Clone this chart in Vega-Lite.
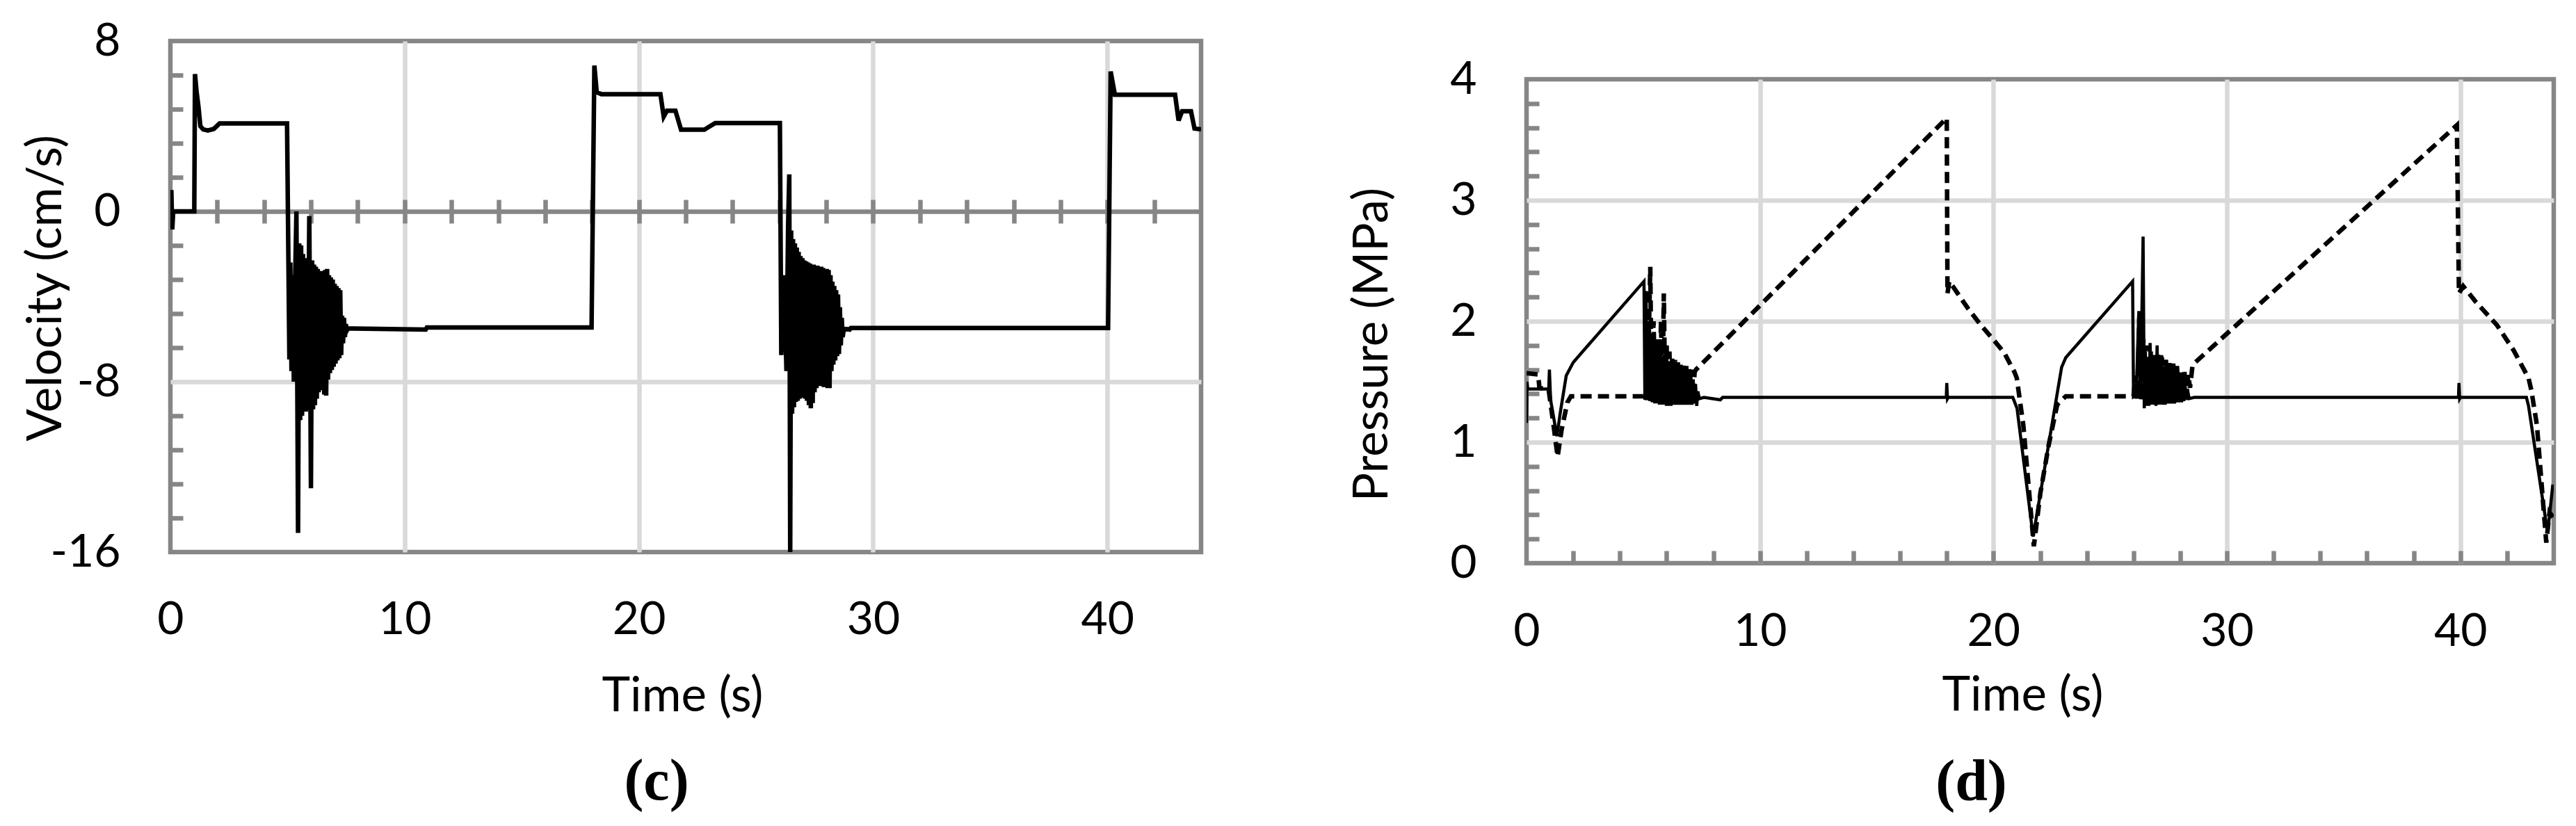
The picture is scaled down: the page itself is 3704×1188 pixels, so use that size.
{
"$schema": "https://vega.github.io/schema/vega-lite/v6.json",
"background": "white",
"padding": {"left": 28, "top": 22, "right": 0, "bottom": 0},
"spacing": 204,
"config": {
 "font": "Lato",
 "view": {"stroke": "#868686", "strokeWidth": 6.5},
 "axis": {"labelFont": "Lato", "titleFont": "Lato", "labelFontSize": 66, "titleFontSize": 69, "labelColor": "black", "titleColor": "black", "titleFontWeight": "normal", "domain": false, "gridColor": "#d9d9d9", "gridWidth": 6.5, "tickColor": "#868686", "tickWidth": 6.5, "labelFlush": false, "labelOverlap": false, "labelBound": false},
 "title": {"font": "Liberation Serif", "fontSize": 84, "fontWeight": "bold", "orient": "bottom", "anchor": "middle", "frame": "group", "color": "black"}
},
"datasets": {
"vel": [
{"t":0,"v":0},{"t":0.04,"v":1.0},{"t":0.08,"v":-0.85},{"t":0.12,"v":0},{"t":1.02,"v":0},{"t":1.05,"v":6.45},{"t":1.12,"v":5.6},{"t":1.2,"v":4.9},{"t":1.28,"v":4.0},{"t":1.4,"v":3.85},{"t":1.6,"v":3.8},{"t":1.85,"v":3.87},{"t":2.1,"v":4.13},{"t":4.98,"v":4.13},
{"t":5.08,"v":-6.95},{"t":5.12,"v":-2.4},{"t":5.17,"v":-7.5},{"t":5.22,"v":-3.0},{"t":5.27,"v":-8.0},{"t":5.32,"v":-3.5},{"t":5.38,"v":0.0},{"t":5.45,"v":-15.1},{"t":5.5,"v":-1.5},{"t":5.54,"v":-9.8},{"t":5.58,"v":-1.6},{"t":5.62,"v":-9.6},{"t":5.66,"v":-2.0},{"t":5.7,"v":-9.4},{"t":5.74,"v":-2.2},{"t":5.78,"v":-9.4},{"t":5.82,"v":-2.4},{"t":5.86,"v":-9.3},{"t":5.93,"v":-0.22},{"t":6.0,"v":-13.0},{"t":6.05,"v":-2.3},{"t":6.09,"v":-9.3},{"t":6.13,"v":-2.5},{"t":6.17,"v":-9.1},{"t":6.21,"v":-2.6},{"t":6.25,"v":-8.8},{"t":6.29,"v":-2.7},{"t":6.33,"v":-8.5},{"t":6.37,"v":-2.8},{"t":6.41,"v":-8.4},{"t":6.45,"v":-2.85},{"t":6.49,"v":-8.4},{"t":6.53,"v":-2.8},{"t":6.57,"v":-8.6},{"t":6.61,"v":-2.75},{"t":6.65,"v":-8.65},{"t":6.69,"v":-2.7},{"t":6.73,"v":-7.9},{"t":6.77,"v":-3.0},{"t":6.81,"v":-7.6},{"t":6.85,"v":-3.1},{"t":6.89,"v":-7.45},{"t":6.93,"v":-3.2},{"t":6.97,"v":-7.3},{"t":7.01,"v":-3.4},{"t":7.05,"v":-7.15},{"t":7.09,"v":-3.5},{"t":7.13,"v":-7.0},{"t":7.17,"v":-3.6},{"t":7.21,"v":-6.9},{"t":7.25,"v":-3.7},{"t":7.29,"v":-6.75},{"t":7.33,"v":-4.9},{"t":7.37,"v":-6.2},{"t":7.41,"v":-5.0},{"t":7.45,"v":-5.9},{"t":7.49,"v":-5.3},{"t":7.53,"v":-5.6},{"t":7.58,"v":-5.5},
{"t":10.9,"v":-5.55},{"t":10.95,"v":-5.45},{"t":17.98,"v":-5.45},{"t":18.1,"v":6.85},{"t":18.2,"v":5.6},{"t":18.4,"v":5.5},{"t":20.92,"v":5.5},{"t":21.06,"v":4.45},{"t":21.2,"v":4.73},{"t":21.56,"v":4.73},{"t":21.8,"v":3.84},{"t":22.8,"v":3.84},{"t":23.26,"v":4.15},{"t":26.02,"v":4.15},
{"t":26.08,"v":-6.75},{"t":26.2,"v":-3.0},{"t":26.3,"v":-7.5},{"t":26.37,"v":-0.7},{"t":26.42,"v":1.74},{"t":26.46,"v":-16},{"t":26.5,"v":-0.9},{"t":26.54,"v":-9.5},{"t":26.58,"v":-1.3},{"t":26.62,"v":-9.2},{"t":26.66,"v":-1.5},{"t":26.7,"v":-8.95},{"t":26.74,"v":-1.7},{"t":26.78,"v":-8.9},{"t":26.82,"v":-1.9},{"t":26.86,"v":-8.8},{"t":26.9,"v":-2.1},{"t":26.94,"v":-8.75},{"t":26.98,"v":-2.2},{"t":27.02,"v":-8.75},{"t":27.06,"v":-2.3},{"t":27.1,"v":-8.8},{"t":27.14,"v":-2.35},{"t":27.18,"v":-8.9},{"t":27.22,"v":-2.4},{"t":27.26,"v":-9.1},{"t":27.3,"v":-2.45},{"t":27.34,"v":-9.25},{"t":27.38,"v":-2.5},{"t":27.42,"v":-9.0},{"t":27.46,"v":-2.5},{"t":27.5,"v":-8.5},{"t":27.54,"v":-2.55},{"t":27.58,"v":-8.3},{"t":27.62,"v":-2.55},{"t":27.66,"v":-8.2},{"t":27.7,"v":-2.6},{"t":27.74,"v":-8.2},{"t":27.78,"v":-2.6},{"t":27.82,"v":-8.2},{"t":27.86,"v":-2.65},{"t":27.9,"v":-8.25},{"t":27.94,"v":-2.7},{"t":27.98,"v":-8.25},{"t":28.02,"v":-2.7},{"t":28.06,"v":-8.3},{"t":28.1,"v":-2.75},{"t":28.14,"v":-8.3},{"t":28.18,"v":-3.0},{"t":28.22,"v":-7.5},{"t":28.26,"v":-3.3},{"t":28.3,"v":-7.2},{"t":28.34,"v":-3.5},{"t":28.38,"v":-7.0},{"t":28.42,"v":-3.7},{"t":28.46,"v":-6.8},{"t":28.5,"v":-3.9},{"t":28.54,"v":-6.7},{"t":28.58,"v":-4.5},{"t":28.62,"v":-6.3},{"t":28.66,"v":-5.0},{"t":28.7,"v":-5.9},{"t":28.75,"v":-5.5},
{"t":29.0,"v":-5.55},{"t":29.05,"v":-5.48},{"t":40.03,"v":-5.48},{"t":40.14,"v":6.57},{"t":40.32,"v":5.48},{"t":42.89,"v":5.48},{"t":43.04,"v":4.27},{"t":43.19,"v":4.7},{"t":43.57,"v":4.7},{"t":43.72,"v":3.89},{"t":44.0,"v":3.85}
],
"pres": [
{"t":0,"p":1.16,"s":"solid"},{"t":0.02,"p":1.5,"s":"solid"},{"t":0.05,"p":1.44,"s":"solid"},{"t":0.95,"p":1.44,"s":"solid"},{"t":0.98,"p":1.6,"s":"solid"},{"t":1.03,"p":1.35,"s":"solid"},{"t":1.3,"p":1.05,"s":"solid"},{"t":1.45,"p":1.25,"s":"solid"},{"t":1.7,"p":1.55,"s":"solid"},{"t":2.0,"p":1.66,"s":"solid"},{"t":5.03,"p":2.33,"s":"solid"},
{"t":5.07,"p":1.35,"s":"solid"},{"t":5.12,"p":2.25,"s":"solid"},{"t":5.17,"p":1.35,"s":"solid"},{"t":5.22,"p":2.0,"s":"solid"},{"t":5.27,"p":1.34,"s":"solid"},{"t":5.33,"p":1.9,"s":"solid"},{"t":5.38,"p":1.33,"s":"solid"},{"t":5.44,"p":1.82,"s":"solid"},{"t":5.49,"p":1.32,"s":"solid"},{"t":5.54,"p":1.78,"s":"solid"},{"t":5.59,"p":1.32,"s":"solid"},{"t":5.64,"p":1.74,"s":"solid"},{"t":5.69,"p":1.31,"s":"solid"},{"t":5.74,"p":1.72,"s":"solid"},{"t":5.79,"p":1.31,"s":"solid"},{"t":5.84,"p":1.7,"s":"solid"},{"t":5.89,"p":1.31,"s":"solid"},{"t":5.94,"p":1.68,"s":"solid"},{"t":5.99,"p":1.3,"s":"solid"},{"t":6.04,"p":1.66,"s":"solid"},{"t":6.09,"p":1.3,"s":"solid"},{"t":6.14,"p":1.65,"s":"solid"},{"t":6.19,"p":1.3,"s":"solid"},{"t":6.24,"p":1.64,"s":"solid"},{"t":6.29,"p":1.31,"s":"solid"},{"t":6.34,"p":1.63,"s":"solid"},{"t":6.39,"p":1.31,"s":"solid"},{"t":6.44,"p":1.62,"s":"solid"},{"t":6.49,"p":1.31,"s":"solid"},{"t":6.54,"p":1.62,"s":"solid"},{"t":6.59,"p":1.31,"s":"solid"},{"t":6.64,"p":1.6,"s":"solid"},{"t":6.69,"p":1.31,"s":"solid"},{"t":6.74,"p":1.6,"s":"solid"},{"t":6.79,"p":1.31,"s":"solid"},{"t":6.84,"p":1.58,"s":"solid"},{"t":6.89,"p":1.31,"s":"solid"},{"t":6.94,"p":1.56,"s":"solid"},{"t":6.99,"p":1.31,"s":"solid"},{"t":7.04,"p":1.55,"s":"solid"},{"t":7.09,"p":1.31,"s":"solid"},{"t":7.14,"p":1.52,"s":"solid"},{"t":7.19,"p":1.32,"s":"solid"},{"t":7.24,"p":1.48,"s":"solid"},{"t":7.29,"p":1.3,"s":"solid"},{"t":7.34,"p":1.42,"s":"solid"},{"t":7.4,"p":1.36,"s":"solid"},{"t":7.6,"p":1.37,"s":"solid"},{"t":8.3,"p":1.35,"s":"solid"},{"t":8.4,"p":1.37,"s":"solid"},
{"t":17.98,"p":1.37,"s":"solid"},{"t":18.0,"p":1.49,"s":"solid"},{"t":18.03,"p":1.36,"s":"solid"},{"t":18.06,"p":1.37,"s":"solid"},{"t":20.83,"p":1.37,"s":"solid"},{"t":21.01,"p":1.28,"s":"solid"},{"t":21.7,"p":0.22,"s":"solid"},{"t":22.92,"p":1.62,"s":"solid"},{"t":23.1,"p":1.7,"s":"solid"},{"t":25.96,"p":2.33,"s":"solid"},
{"t":26.0,"p":1.38,"s":"solid"},{"t":26.12,"p":1.4,"s":"solid"},{"t":26.22,"p":2.05,"s":"solid"},{"t":26.3,"p":1.36,"s":"solid"},{"t":26.41,"p":2.7,"s":"solid"},{"t":26.46,"p":1.28,"s":"solid"},{"t":26.51,"p":1.75,"s":"solid"},{"t":26.56,"p":1.3,"s":"solid"},{"t":26.61,"p":1.7,"s":"solid"},{"t":26.66,"p":1.3,"s":"solid"},{"t":26.71,"p":1.82,"s":"solid"},{"t":26.76,"p":1.31,"s":"solid"},{"t":26.81,"p":1.65,"s":"solid"},{"t":26.86,"p":1.31,"s":"solid"},{"t":26.91,"p":1.7,"s":"solid"},{"t":26.96,"p":1.3,"s":"solid"},{"t":27.01,"p":1.8,"s":"solid"},{"t":27.06,"p":1.31,"s":"solid"},{"t":27.11,"p":1.65,"s":"solid"},{"t":27.16,"p":1.31,"s":"solid"},{"t":27.21,"p":1.72,"s":"solid"},{"t":27.26,"p":1.31,"s":"solid"},{"t":27.31,"p":1.62,"s":"solid"},{"t":27.36,"p":1.31,"s":"solid"},{"t":27.41,"p":1.68,"s":"solid"},{"t":27.46,"p":1.32,"s":"solid"},{"t":27.51,"p":1.62,"s":"solid"},{"t":27.56,"p":1.32,"s":"solid"},{"t":27.61,"p":1.6,"s":"solid"},{"t":27.66,"p":1.32,"s":"solid"},{"t":27.71,"p":1.62,"s":"solid"},{"t":27.76,"p":1.32,"s":"solid"},{"t":27.81,"p":1.58,"s":"solid"},{"t":27.86,"p":1.33,"s":"solid"},{"t":27.91,"p":1.56,"s":"solid"},{"t":27.96,"p":1.33,"s":"solid"},{"t":28.01,"p":1.53,"s":"solid"},{"t":28.06,"p":1.33,"s":"solid"},{"t":28.11,"p":1.5,"s":"solid"},{"t":28.16,"p":1.34,"s":"solid"},{"t":28.21,"p":1.47,"s":"solid"},{"t":28.26,"p":1.35,"s":"solid"},{"t":28.31,"p":1.44,"s":"solid"},{"t":28.38,"p":1.36,"s":"solid"},{"t":28.6,"p":1.37,"s":"solid"},
{"t":39.92,"p":1.37,"s":"solid"},{"t":39.94,"p":1.49,"s":"solid"},{"t":39.97,"p":1.36,"s":"solid"},{"t":40.0,"p":1.37,"s":"solid"},{"t":42.83,"p":1.37,"s":"solid"},{"t":42.92,"p":1.3,"s":"solid"},{"t":43.74,"p":0.25,"s":"solid"},{"t":43.96,"p":0.65,"s":"solid"},
{"t":0,"p":1.57,"s":"dashed"},{"t":0.5,"p":1.56,"s":"dashed"},{"t":0.55,"p":1.45,"s":"dashed"},{"t":0.95,"p":1.43,"s":"dashed"},{"t":1.15,"p":1.15,"s":"dashed"},{"t":1.33,"p":0.88,"s":"dashed"},{"t":1.5,"p":1.1,"s":"dashed"},{"t":1.75,"p":1.33,"s":"dashed"},{"t":1.9,"p":1.38,"s":"dashed"},{"t":5.0,"p":1.38,"s":"dashed"},
{"t":5.08,"p":1.42,"s":"dashed"},{"t":5.16,"p":1.35,"s":"dashed"},{"t":5.24,"p":1.9,"s":"dashed"},{"t":5.3,"p":2.45,"s":"dashed"},{"t":5.36,"p":1.34,"s":"dashed"},{"t":5.44,"p":2.0,"s":"dashed"},{"t":5.52,"p":1.34,"s":"dashed"},{"t":5.6,"p":1.85,"s":"dashed"},{"t":5.68,"p":1.34,"s":"dashed"},{"t":5.76,"p":2.0,"s":"dashed"},{"t":5.82,"p":1.34,"s":"dashed"},{"t":5.88,"p":2.23,"s":"dashed"},{"t":5.94,"p":1.33,"s":"dashed"},{"t":6.0,"p":1.8,"s":"dashed"},{"t":6.06,"p":1.33,"s":"dashed"},{"t":6.12,"p":1.75,"s":"dashed"},{"t":6.18,"p":1.33,"s":"dashed"},{"t":6.24,"p":1.7,"s":"dashed"},{"t":6.3,"p":1.34,"s":"dashed"},{"t":6.36,"p":1.68,"s":"dashed"},{"t":6.42,"p":1.33,"s":"dashed"},{"t":6.48,"p":1.66,"s":"dashed"},{"t":6.54,"p":1.34,"s":"dashed"},{"t":6.6,"p":1.65,"s":"dashed"},{"t":6.66,"p":1.34,"s":"dashed"},{"t":6.72,"p":1.64,"s":"dashed"},{"t":6.78,"p":1.34,"s":"dashed"},{"t":6.84,"p":1.63,"s":"dashed"},{"t":6.9,"p":1.35,"s":"dashed"},{"t":6.96,"p":1.62,"s":"dashed"},{"t":7.02,"p":1.36,"s":"dashed"},{"t":7.08,"p":1.6,"s":"dashed"},{"t":7.14,"p":1.38,"s":"dashed"},{"t":7.2,"p":1.58,"s":"dashed"},{"t":7.26,"p":1.6,"s":"dashed"},
{"t":18.0,"p":3.68,"s":"dashed"},{"t":18.03,"p":2.23,"s":"dashed"},{"t":18.11,"p":2.33,"s":"dashed"},{"t":18.93,"p":2.1,"s":"dashed"},{"t":19.45,"p":1.97,"s":"dashed"},{"t":19.9,"p":1.87,"s":"dashed"},{"t":20.46,"p":1.74,"s":"dashed"},{"t":20.9,"p":1.58,"s":"dashed"},{"t":21.0,"p":1.53,"s":"dashed"},{"t":21.28,"p":1.14,"s":"dashed"},{"t":21.73,"p":0.14,"s":"dashed"},{"t":22.01,"p":0.58,"s":"dashed"},{"t":22.37,"p":0.98,"s":"dashed"},{"t":22.73,"p":1.31,"s":"dashed"},{"t":23.1,"p":1.38,"s":"dashed"},{"t":25.9,"p":1.38,"s":"dashed"},
{"t":26.0,"p":1.38,"s":"dashed"},{"t":26.08,"p":1.55,"s":"dashed"},{"t":26.16,"p":1.36,"s":"dashed"},{"t":26.26,"p":2.1,"s":"dashed"},{"t":26.34,"p":1.35,"s":"dashed"},{"t":26.42,"p":1.85,"s":"dashed"},{"t":26.5,"p":1.33,"s":"dashed"},{"t":26.58,"p":1.8,"s":"dashed"},{"t":26.66,"p":1.33,"s":"dashed"},{"t":26.74,"p":1.75,"s":"dashed"},{"t":26.82,"p":1.33,"s":"dashed"},{"t":26.9,"p":1.72,"s":"dashed"},{"t":26.98,"p":1.33,"s":"dashed"},{"t":27.06,"p":1.74,"s":"dashed"},{"t":27.14,"p":1.33,"s":"dashed"},{"t":27.22,"p":1.7,"s":"dashed"},{"t":27.3,"p":1.34,"s":"dashed"},{"t":27.38,"p":1.68,"s":"dashed"},{"t":27.46,"p":1.34,"s":"dashed"},{"t":27.54,"p":1.66,"s":"dashed"},{"t":27.62,"p":1.34,"s":"dashed"},{"t":27.7,"p":1.65,"s":"dashed"},{"t":27.78,"p":1.35,"s":"dashed"},{"t":27.86,"p":1.63,"s":"dashed"},{"t":27.94,"p":1.35,"s":"dashed"},{"t":28.02,"p":1.6,"s":"dashed"},{"t":28.1,"p":1.36,"s":"dashed"},{"t":28.18,"p":1.58,"s":"dashed"},{"t":28.26,"p":1.38,"s":"dashed"},{"t":28.34,"p":1.56,"s":"dashed"},{"t":28.42,"p":1.45,"s":"dashed"},{"t":28.53,"p":1.64,"s":"dashed"},
{"t":39.85,"p":3.62,"s":"dashed"},{"t":39.94,"p":2.23,"s":"dashed"},{"t":40.12,"p":2.29,"s":"dashed"},{"t":40.66,"p":2.16,"s":"dashed"},{"t":41.56,"p":1.97,"s":"dashed"},{"t":42.28,"p":1.76,"s":"dashed"},{"t":42.92,"p":1.53,"s":"dashed"},{"t":43.04,"p":1.43,"s":"dashed"},{"t":43.28,"p":1.14,"s":"dashed"},{"t":43.68,"p":0.17,"s":"dashed"},{"t":43.82,"p":0.42,"s":"dashed"},{"t":43.97,"p":0.38,"s":"dashed"}
]
},
"hconcat": [
{
 "width": 1482, "height": 735,
 "title": {"text": "(c)", "dx": -42, "offset": 48},
 "data": {"name": "vel"},
 "layer": [
  {
   "mark": {"type": "line", "color": "black", "strokeWidth": 6.5, "clip": true},
   "encoding": {
    "x": {"field": "t", "type": "quantitative", "scale": {"domain": [0, 44], "nice": false, "zero": false},
      "axis": {"values": [0, 10, 20, 30, 40], "ticks": false, "tickSize": 0, "labelPadding": 65, "labelOverlap": false, "grid": true,
        "gridOpacity": {"condition": {"test": "datum.value > 0", "value": 1}, "value": 0},
        "title": "Time (s)", "titleX": 736, "titleY": 228, "titleBaseline": "alphabetic"}},
    "y": {"field": "v", "type": "quantitative", "scale": {"domain": [-16, 8], "nice": false, "zero": false},
      "axis": {"orient": "left", "values": [8, 0, -8, -16],
        "labelExpr": "datum.value == 8 ? '8' : datum.value == 0 ? '0' : datum.value == -8 ? '-8' : '-16'",
        "labelOverlap": false, "ticks": false, "tickSize": 0, "labelPadding": 72, "grid": true,
        "gridOpacity": {"condition": {"test": "datum.value == 0 || datum.value == -8", "value": 1}, "value": 0},
        "gridColor": {"condition": {"test": "datum.value == 0", "value": "#868686"}, "value": "#d9d9d9"},
        "title": "Velocity (cm/s)", "titleX": -179, "titleY": 355, "titleBaseline": "middle", "titleAngle": -90}}
   }
  },
  {
   "mark": {"type": "line", "opacity": 0},
   "encoding": {
    "x": {"field": "t", "type": "quantitative",
      "axis": {"orient": "bottom", "offset": -507, "values": [2,4,6,8,10,12,14,16,18,20,22,24,26,28,30,32,34,36,38,40,42], "labels": false, "ticks": true, "tickSize": 34, "grid": false, "title": null}},
    "y": {"field": "v", "type": "quantitative",
      "axis": {"orient": "left", "values": [6.4, 4.8, 3.2, 1.6, -1.6, -3.2, -4.8, -6.4, -9.6, -11.2, -12.8, -14.4], "labels": false, "ticks": true, "tickSize": -18, "grid": false, "title": null}}
   }
  }
 ],
 "resolve": {"axis": {"x": "independent", "y": "independent"}}
},
{
 "spacing": 0,
 "vconcat": [
  {
   "width": 10, "height": 18,
   "data": {"values": [{"a": 0}]},
   "mark": {"type": "point", "opacity": 0},
   "view": {"stroke": null}
  },
  {
   "width": 1477, "height": 696,
   "title": {"text": "(d)", "dx": -99, "offset": 50},
   "data": {"name": "pres"},
   "layer": [
    {
     "transform": [{"filter": "datum.s == 'solid'"}],
     "mark": {"type": "line", "color": "black", "strokeWidth": 4.5, "clip": true},
     "encoding": {
      "x": {"field": "t", "type": "quantitative", "scale": {"domain": [0, 44], "nice": false, "zero": false},
        "axis": {"values": [0, 10, 20, 30, 40], "ticks": false, "tickSize": 0, "labelPadding": 66, "labelOverlap": false, "grid": true,
          "gridOpacity": {"condition": {"test": "datum.value > 0", "value": 1}, "value": 0},
          "title": "Time (s)", "titleX": 713, "titleY": 211, "titleBaseline": "alphabetic"}},
      "y": {"field": "p", "type": "quantitative", "scale": {"domain": [0, 4], "nice": false, "zero": false},
        "axis": {"orient": "left", "values": [0, 1, 2, 3, 4], "labelOverlap": false, "ticks": false, "tickSize": 0, "labelPadding": 72, "grid": true,
          "gridOpacity": {"condition": {"test": "datum.value > 0 && datum.value < 4", "value": 1}, "value": 0},
          "title": "Pressure (MPa)", "titleX": -222, "titleY": 381, "titleBaseline": "middle", "titleAngle": -90}}
     }
    },
    {
     "transform": [{"filter": "datum.s == 'dashed'"}],
     "mark": {"type": "line", "color": "black", "strokeWidth": 6.5, "strokeDash": [16, 9], "clip": true},
     "encoding": {
      "x": {"field": "t", "type": "quantitative",
        "axis": {"orient": "bottom", "values": [2,4,6,8,10,12,14,16,18,20,22,24,26,28,30,32,34,36,38,40,42], "labels": false, "ticks": true, "tickSize": -18, "grid": false, "title": null}},
      "y": {"field": "p", "type": "quantitative",
        "axis": {"orient": "left", "values": [0.2,0.4,0.6,0.8,1.2,1.4,1.6,1.8,2.2,2.4,2.6,2.8,3.2,3.4,3.6,3.8], "labels": false, "ticks": true, "tickSize": -18, "grid": false, "title": null}}
     }
    }
   ],
   "resolve": {"axis": {"x": "independent", "y": "independent"}}
  }
 ]
}
]
}
